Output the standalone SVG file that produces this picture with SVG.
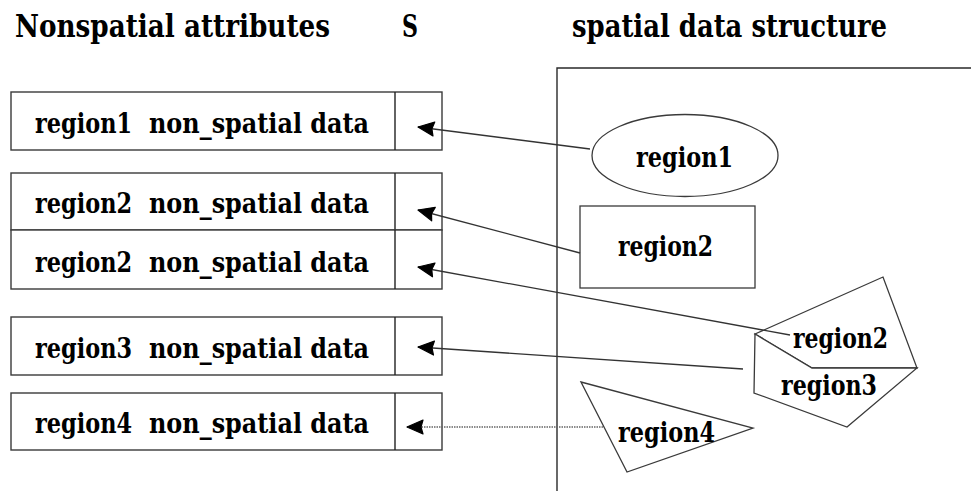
<svg xmlns="http://www.w3.org/2000/svg" width="971" height="491" viewBox="0 0 971 491">
  <style>
    .bg { fill: #ffffff; }
    .head { font-family: 'DejaVu Serif Condensed', 'DejaVu Serif', serif; font-weight: bold; font-size: 31px; fill: #000; }
    .lbl { font-family: 'DejaVu Serif', serif; font-weight: bold; font-size: 28px; fill: #000; }
    .box { fill: #ffffff; stroke: #3a3a3a; stroke-width: 1.4; }
    .div { stroke: #222; stroke-width: 1.4; }
    .shape { fill: #ffffff; stroke: #3a3a3a; stroke-width: 1.3; }
    .frame { fill: none; stroke: #2a2a2a; stroke-width: 1.4; }
    .conn { fill: none; stroke: #333; stroke-width: 1.3; marker-end: url(#arrow); }
    .dotted { stroke: #666; stroke-dasharray: 1.5 1; }
  </style>
  <defs>
    <!-- filled arrowhead, tip at the end of the pointer -->
    <marker id="arrow" markerUnits="userSpaceOnUse" markerWidth="18" markerHeight="16" refX="17" refY="8" orient="auto" viewBox="0 0 18 16">
      <path d="M17,8 L1,1 L3,8 L1,15 z" fill="#000" stroke="#000" stroke-width="1.2" stroke-linejoin="round"/>
    </marker>
  </defs>

  <rect class="bg" x="0" y="0" width="971" height="491"/>

  <!-- column headings -->
  <text class="head" x="15" y="37" textLength="315" lengthAdjust="spacingAndGlyphs">Nonspatial attributes</text>
  <text class="head" x="402" y="37" textLength="16" lengthAdjust="spacingAndGlyphs">S</text>
  <text class="head" x="572" y="37" textLength="315" lengthAdjust="spacingAndGlyphs">spatial data structure</text>

  <!-- spatial data structure frame -->
  <path class="frame" d="M557,491 V68 H971"/>

  <!-- attribute records -->
  <g id="rec-region1">
    <rect class="box" x="11" y="92" width="431" height="58"/>
    <line class="div" x1="395" y1="92" x2="395" y2="150"/>
    <text class="lbl" x="35" y="132.5" textLength="97" lengthAdjust="spacingAndGlyphs">region1</text>
    <text class="lbl" x="149" y="132.5" textLength="220" lengthAdjust="spacingAndGlyphs">non_spatial data</text>
  </g>
  <g id="rec-region2a">
    <rect class="box" x="11" y="173" width="431" height="57"/>
    <line class="div" x1="395" y1="173" x2="395" y2="230"/>
    <text class="lbl" x="35" y="213.3" textLength="97" lengthAdjust="spacingAndGlyphs">region2</text>
    <text class="lbl" x="149" y="213.3" textLength="220" lengthAdjust="spacingAndGlyphs">non_spatial data</text>
  </g>
  <g id="rec-region2b">
    <rect class="box" x="11" y="230" width="431" height="59"/>
    <line class="div" x1="395" y1="230" x2="395" y2="289"/>
    <text class="lbl" x="35" y="271.5" textLength="97" lengthAdjust="spacingAndGlyphs">region2</text>
    <text class="lbl" x="149" y="271.5" textLength="220" lengthAdjust="spacingAndGlyphs">non_spatial data</text>
  </g>
  <g id="rec-region3">
    <rect class="box" x="11" y="317" width="431" height="58"/>
    <line class="div" x1="395" y1="317" x2="395" y2="375"/>
    <text class="lbl" x="35" y="358.3" textLength="97" lengthAdjust="spacingAndGlyphs">region3</text>
    <text class="lbl" x="149" y="358.3" textLength="220" lengthAdjust="spacingAndGlyphs">non_spatial data</text>
  </g>
  <g id="rec-region4">
    <rect class="box" x="11" y="393" width="431" height="57"/>
    <line class="div" x1="395" y1="393" x2="395" y2="450"/>
    <text class="lbl" x="35" y="433.3" textLength="97" lengthAdjust="spacingAndGlyphs">region4</text>
    <text class="lbl" x="149" y="433.3" textLength="220" lengthAdjust="spacingAndGlyphs">non_spatial data</text>
  </g>

  <!-- spatial objects -->
  <g id="shape-region1">
    <ellipse class="shape" cx="685" cy="155.5" rx="93" ry="41"/>
    <text class="lbl" x="636" y="166.5" textLength="97" lengthAdjust="spacingAndGlyphs">region1</text>
  </g>
  <g id="shape-region2">
    <rect class="shape" x="580" y="206" width="175" height="82"/>
    <text class="lbl" x="618" y="256" textLength="95" lengthAdjust="spacingAndGlyphs">region2</text>
  </g>
  <g id="shape-region2b">
    <polygon class="shape" points="755,334 883,277 917,368 812,368"/>
  </g>
  <g id="shape-region3">
    <polygon class="shape" points="755,334 812,368 917,368 847,427 754,393"/>
    <text class="lbl" x="781" y="395" textLength="96" lengthAdjust="spacingAndGlyphs">region3</text>
  </g>
  <g id="shape-region4">
    <polygon class="shape" points="581,382 753,428 627,472"/>
    <text class="lbl" x="618" y="441.5" textLength="97" lengthAdjust="spacingAndGlyphs">region4</text>
  </g>

  <!-- pointers from spatial objects to attribute records -->
  <g id="connectors">
    <line class="conn" x1="590" y1="149" x2="418" y2="127"/>
    <line class="conn" x1="580" y1="253" x2="418" y2="210"/>
    <line class="conn" x1="790" y1="335" x2="418" y2="267"/>
    <line class="conn" x1="743" y1="369" x2="418" y2="347"/>
    <line class="conn dotted" x1="603" y1="427" x2="407" y2="427"/>
  </g>

  <!-- label drawn over the crossing pointer -->
  <text class="lbl" x="793" y="348.3" textLength="95" lengthAdjust="spacingAndGlyphs">region2</text>
</svg>
